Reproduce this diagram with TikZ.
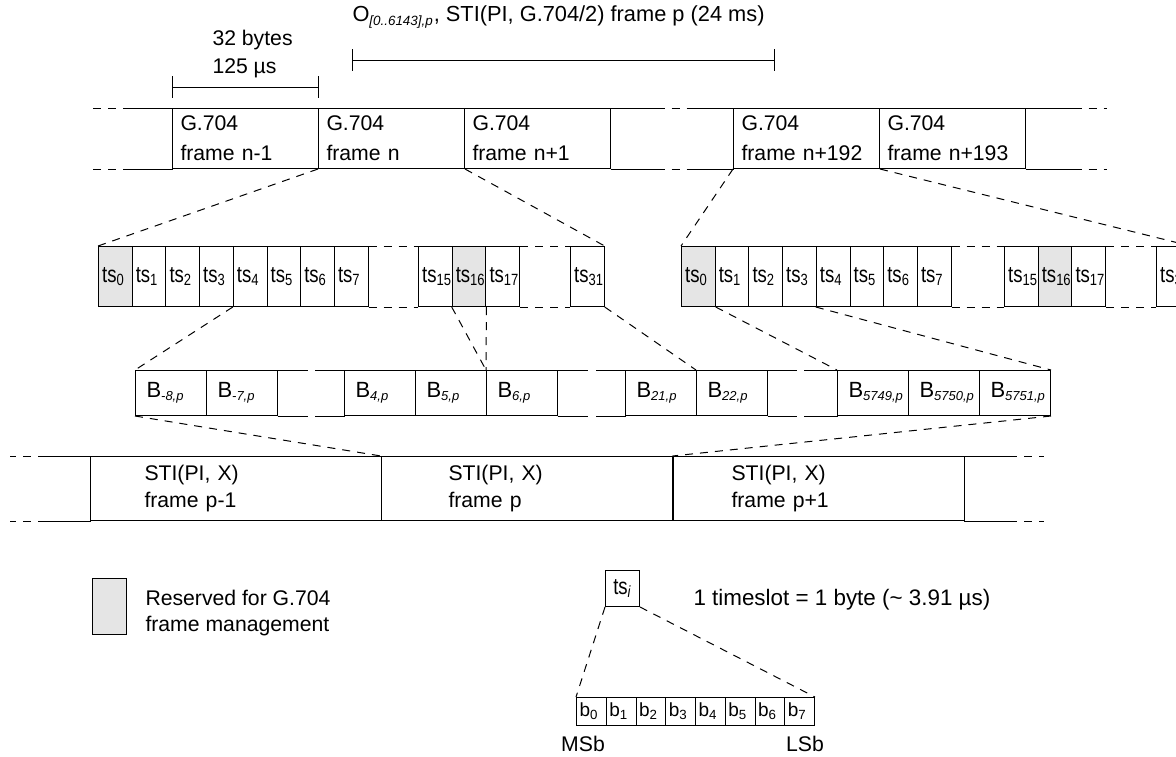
\documentclass[tikz,border=0pt]{standalone}
\usepackage{fontspec}
\setmainfont{Liberation Sans}
\usepackage{graphicx}
\usetikzlibrary{calc}

\colorlet{resgray}{black!10}
\newcommand{\tsl}[1]{\scalebox{0.8}[1]{ts\textsubscript{#1}}}
\newcommand{\bsl}[1]{B\textsubscript{\itshape\fontsize{6.5}{7}\selectfont #1}}

\tikzset{
  gframe/.style={draw, anchor=north west, minimum width=73pt, minimum height=30pt,
    inner sep=0pt, text width=65pt, align=left, font=\fontsize{10.6}{15}\selectfont},
  tscell/.style={draw, anchor=north west, minimum width=16.85pt, minimum height=30pt,
    inner sep=0pt, text width=13.25pt, align=left, font=\fontsize{11.6}{13}\selectfont},
  tsres/.style={tscell, fill=resgray},
  bcell/.style={draw, anchor=north west, minimum width=35.5pt, minimum height=22.5pt,
    inner sep=0pt, text width=24.5pt, align=left, font=\fontsize{11}{13}\selectfont},
  stiframe/.style={draw, anchor=north west, minimum width=145.7pt, minimum height=32pt,
    inner sep=0pt, text width=#1, align=left, font=\fontsize{10.6}{13.5}\selectfont},
  bitcell/.style={draw, anchor=north west, minimum width=14.875pt, minimum height=14pt,
    inner sep=0pt, text width=11.875pt, align=left, font=\fontsize{9.5}{10}\selectfont},
  link/.style={dash pattern=on 4pt off 3.5pt},
  gapline/.style={dash pattern=on 4pt off 3.5pt}
}

\begin{document}
\begin{tikzpicture}[x=0.5pt, y=-0.5pt, line width=0.5pt, font=\fontsize{10.6}{14}\selectfont]
\useasboundingbox (0,0) rectangle (1176,756);
\clip (0,0) rectangle (1176,756);

% scale marks
\node[anchor=west, inner sep=0pt, font=\fontsize{10.9}{14}\selectfont] (plabel) at (352,17)
  {O\textsubscript{\itshape\fontsize{6.7}{7}\selectfont [0..6143],p}, STI(PI, G.704/2) frame p (24 ms)};
\coordinate (pa) at (352,60);
\coordinate (pb) at (774,60);
\draw (pa) -- (pb);
\draw (pa) ++(0,-11) -- ++(0,22);
\draw (pb) ++(0,-11) -- ++(0,22);
\node[anchor=west, inner sep=0pt, align=left] (blabel) at (212,54) {32 bytes\\125 µs};
\coordinate (ba) at (172,87);
\coordinate (bb) at (318,87);
\draw (ba) -- (bb);
\draw (ba) ++(0,-11) -- ++(0,22);
\draw (bb) ++(0,-11) -- ++(0,22);

% G.704 frames
\node[gframe] (fa) at (172,108) {G.704\\frame n-1};
\node[gframe] (fb) at (318,108) {G.704\\frame n};
\node[gframe] (fc) at (464,108) {G.704\\frame n+1};
\node[gframe] (fd) at (733,108) {G.704\\frame n+192};
\node[gframe] (fe) at (879,108) {G.704\\frame n+193};
\foreach \s in {north,south} {
  \draw (fa.\s) ++(-73,0) -- ++(-42,0);
  \draw[gapline] (fa.\s) ++(-115,0) -- ++(-40,0);
  \draw (fc.\s) ++(73,0) -- ++(46,0);
  \draw[gapline] (fc.\s) ++(119,0) -- ++(35,0);
  \draw (fd.\s) ++(-73,0) -- ++(-43,0);
  \draw (fe.\s) ++(73,0) -- ++(48,0);
  \draw[gapline] (fe.\s) ++(121,0) -- ++(33,0);
}

% timeslots, frame n
\node[tsres] (la0) at (98,246) {\tsl{0}};
\foreach \i in {1,...,7}
  \node[tscell] (la\i) at ({98+33.7*\i},246) {\tsl{\i}};
\node[tscell] (la15) at (418,246) {\tsl{15}};
\node[tsres] (la16) at (451.7,246) {\tsl{16}};
\node[tscell] (la17) at (485.4,246) {\tsl{17}};
\node[tscell] (la31) at (570,246) {\tsl{31}};
\draw[gapline] (la7.north east) -- (la15.north west);
\draw[gapline] (la7.south east) -- (la15.south west);
\draw[gapline] (la17.north east) -- (la31.north west);
\draw[gapline] (la17.south east) -- (la31.south west);

% timeslots, frame n+192
\node[tsres] (ra0) at (681,246) {\tsl{0}};
\foreach \i in {1,...,7}
  \node[tscell] (ra\i) at ({681+33.7*\i},246) {\tsl{\i}};
\node[tscell] (ra15) at (1004,246) {\tsl{15}};
\node[tsres] (ra16) at (1037.7,246) {\tsl{16}};
\node[tscell] (ra17) at (1071.4,246) {\tsl{17}};
\node[tscell] (ra31) at (1156,246) {\tsl{31}};
\draw[gapline] (ra7.north east) -- (ra15.north west);
\draw[gapline] (ra7.south east) -- (ra15.south west);
\draw[gapline] (ra17.north east) -- (ra31.north west);
\draw[gapline] (ra17.south east) -- (ra31.south west);

\draw[link] (fb.south west) -- (la0.north west);
\draw[link] (fb.south east) -- (la31.north east);
\draw[link] (fd.south west) -- (ra0.north west);
\draw[link] (fd.south east) -- (ra31.north east);

% bytes of STI frame p
\node[bcell] (bm8) at (135,370) {\bsl{-8,p}};
\node[bcell] (bm7) at (206,370) {\bsl{-7,p}};
\node[bcell] (b4) at (344,370) {\bsl{4,p}};
\node[bcell] (b5) at (415,370) {\bsl{5,p}};
\node[bcell] (b6) at (486,370) {\bsl{6,p}};
\node[bcell] (b21) at (625,370) {\bsl{21,p}};
\node[bcell] (b22) at (696,370) {\bsl{22,p}};
\node[bcell] (b5749) at (837,370) {\bsl{5749,p}};
\node[bcell] (b5750) at (908,370) {\bsl{5750,p}};
\node[bcell] (b5751) at (979,370) {\bsl{5751,p}};
\foreach \s in {north,south} {
  \draw (bm7.\s) ++(35.5,0) -- ++(30,0);
  \draw (b4.\s) ++(-35.5,0) -- ++(-30,0);
  \draw (b6.\s) ++(35.5,0) -- ++(30,0);
  \draw (b21.\s) ++(-35.5,0) -- ++(-30,0);
  \draw (b22.\s) ++(35.5,0) -- ++(29,0);
  \draw (b5749.\s) ++(-35.5,0) -- ++(-34,0);
}

\draw[link] (la4.south west) -- (bm8.north west);
\draw[link] (la16.south west) -- (b6.north west);
\draw[link] (la16.south east) -- (b6.north west);
\draw[link] (la31.south east) -- (b22.north west);
\draw[link] (ra0.south east) -- (b5749.north west);
\draw[link] (ra4.south west) -- (b5751.north east);

% STI frames
\node[stiframe=91.7pt] (sa) at (90,456) {STI(PI, X)\\frame p-1};
\node[stiframe=78.7pt] (sb) at (381,456) {STI(PI, X)\\frame p};
\node[stiframe=87.2pt] (sc) at (672.5,456) {STI(PI, X)\\frame p+1};
\foreach \s in {north,south} {
  \draw (sa.\s) ++(-145.7,0) -- ++(-45,0);
  \draw[gapline] (sa.\s) ++(-190.7,0) -- ++(-36,0);
  \draw (sc.\s) ++(145.7,0) -- ++(45,0);
  \draw[gapline] (sc.\s) ++(190.7,0) -- ++(35,0);
}
\draw[link] (bm8.south west) -- (sb.north west);
\draw[link] (b5751.south east) -- (sc.north west);

% legend
\node[draw, fill=resgray, anchor=north west, minimum width=16.85pt, minimum height=28pt,
  inner sep=0pt] (key) at (92,578) {};
\node[anchor=west, inner sep=0pt, align=left, font=\fontsize{10.6}{13}\selectfont]
  (keytext) at (145,613) {Reserved for G.704\\frame management};

% one timeslot
\node[draw, anchor=north west, minimum width=17pt, minimum height=18pt, inner sep=0pt,
  font=\fontsize{11.6}{13}\selectfont] (tsi) at (605,570) {\tsl{\textit{i}}};
\node[anchor=west, inner sep=0pt, font=\fontsize{11.2}{14}\selectfont] (tsnote) at (693,600)
  {1 timeslot = 1 byte (\textasciitilde{} 3.91 µs)};
\foreach \i in {0,...,7}
  \node[bitcell] (bit\i) at ({576+29.75*\i},697) {b\textsubscript{\i}};
\draw[link] (tsi.south west) -- (bit0.north west);
\draw[link] (tsi.south east) -- (bit7.north east);
\node[inner sep=0pt] (msb) at (583,744) {MSb};
\node[inner sep=0pt] (lsb) at (805,744) {LSb};
\end{tikzpicture}
\end{document}
